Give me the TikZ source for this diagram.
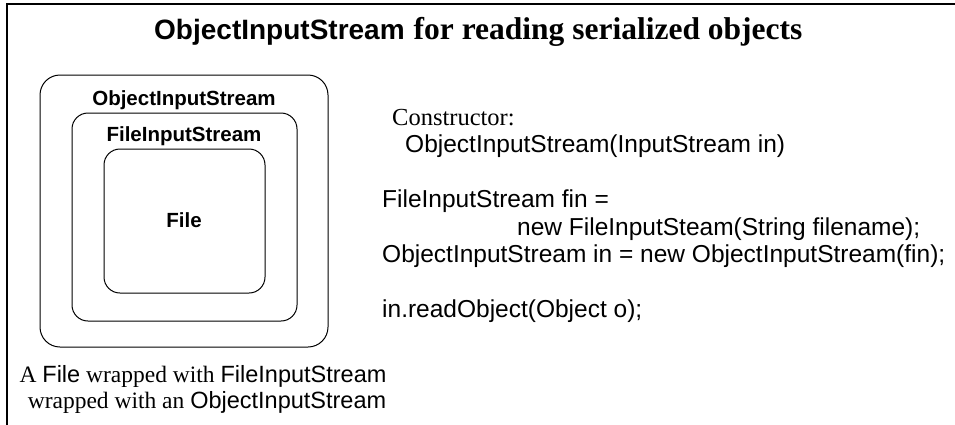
\documentclass[tikz,border=0pt]{standalone}
\usepackage{fontspec}
\setmainfont{Liberation Serif}
\setsansfont{Liberation Sans}
\begin{document}
\begin{tikzpicture}[x=1pt,y=-1pt,
  wrapbox/.style={draw, line width=1pt, inner sep=0pt},
  boxlabel/.style={font=\fontsize{20.5}{24}\selectfont\sffamily\bfseries, anchor=base, inner sep=0pt},
  codeline/.style={font=\fontsize{24.5}{27.5}\selectfont\sffamily, anchor=base west, inner sep=0pt},
  serifline/.style={font=\fontsize{24.5}{27.5}\selectfont\rmfamily, anchor=base west, inner sep=0pt},
  captionline/.style={font=\fontsize{23.5}{26}\selectfont\rmfamily, anchor=base, inner sep=0pt},
  frameline/.style={line width=2pt}]
\useasboundingbox (0,0) rectangle (955,424);
% frame
\coordinate (fbl) at (7,430);
\coordinate (ftl) at (7,4);
\coordinate (ftr) at (960,4);
\draw[frameline] (fbl) -- (ftl) -- (ftr);
% title
\node[anchor=base west, inner sep=0pt] (title) at (154,39)
  {\fontsize{28}{32}\selectfont\bfseries\sffamily ObjectInputStream\hspace{9pt}\rmfamily\fontsize{31.5}{34}\selectfont for reading serialized objects};
% nested boxes
\node[wrapbox, rounded corners=20pt, minimum width=288pt, minimum height=272pt] (outer) at (184,211) {};
\node[wrapbox, rounded corners=16pt, minimum width=225pt, minimum height=208pt] (middle) at (184.5,217) {};
\node[wrapbox, rounded corners=16pt, minimum width=161pt, minimum height=144pt] (inner) at (184.5,221) {};
\node[boxlabel] (outerlabel) at (184,105) {ObjectInputStream};
\node[boxlabel] (middlelabel) at (184,141) {FileInputStream};
\node[boxlabel] (innerlabel) at (184,227) {File};
% caption
\node[captionline] (cap1) at (203,382) {A {\sffamily File} wrapped with {\sffamily FileInputStream}};
\node[captionline] (cap2) at (207,408) {wrapped with an {\sffamily ObjectInputStream}};
% right text
\node[serifline] (ctor) at (392,125) {Constructor:};
\node[codeline] (ctorsig) at (405,152.5) {ObjectInputStream(InputStream in)};
\node[codeline] (fin1) at (382,207.5) {FileInputStream fin =};
\node[codeline] (fin2) at (517,235) {new FileInputSteam(String filename);};
\node[codeline] (oin) at (382,262.5) {ObjectInputStream in = new ObjectInputStream(fin);};
\node[codeline] (read) at (382,317.5) {in.readObject(Object o);};
\end{tikzpicture}
\end{document}
